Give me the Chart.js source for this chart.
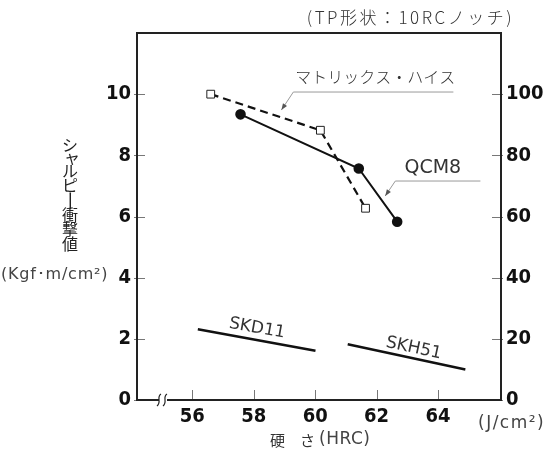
<!DOCTYPE html>
<html><head><meta charset="utf-8">
<script src="https://cdn.jsdelivr.net/npm/chart.js@4/dist/chart.umd.min.js"></script>
<style>html,body{margin:0;padding:0;background:#fff}#wrap{width:546px;height:451px}</style>
</head><body><div id="wrap"><canvas id="c" width="546" height="451"></canvas></div>
<script>
// ---- data ----
const matrixHRC = [56.6, 60.17, 61.64];
const matrixVal = [10.0, 8.82, 6.27];
const qcmHRC = [57.57, 61.42, 62.67];
const qcmVal = [9.34, 7.57, 5.83];
const skd11HRC = [56.18, 60.01];
const skd11Val = [2.31, 1.61];
const skh51HRC = [61.06, 64.89];
const skh51Val = [1.82, 1.00];
const xTicks = [56, 58, 60, 62, 64];
const yTicks = [0, 2, 4, 6, 8, 10];
const y2Ticks = [0, 20, 40, 60, 80, 100];
const titleText = '(TP形状：10RCノッチ)';
const yTitleChars = ['シ','ャ','ル','ピ','ー','衝','撃','値'];
const yUnit = '(Kgf･m/cm²)';
const y2Unit = '(J/cm²)';
const xTitleA = '硬　さ';
const xTitleB = '(HRC)';

const pts = (xs, ys) => xs.map((x, i) => ({x, y: ys[i]}));
const JP = "'Noto Sans CJK JP', 'Noto Sans', sans-serif";
const LAT = "'DejaVu Sans', sans-serif";
const NUM = "'DejaVu Sans Condensed', 'Liberation Sans Narrow', 'DejaVu Sans', sans-serif";

const decor = {
  id: 'decor',
  afterDraw(chart) {
    const {ctx, chartArea: a, scales} = chart;
    const X = v => scales.x.getPixelForValue(v);
    const Y = v => scales.y.getPixelForValue(v);
    ctx.save();
    // inner ticks
    ctx.strokeStyle = '#777'; ctx.lineWidth = 1;
    xTicks.forEach(v => { const px = Math.round(X(v)) + 0.5; ctx.beginPath(); ctx.moveTo(px, a.bottom); ctx.lineTo(px, a.bottom - 10); ctx.stroke(); });
    yTicks.forEach(v => { const py = Math.round(Y(v)) + 0.5; ctx.beginPath(); ctx.moveTo(a.left - 3, py); ctx.lineTo(a.left + 8, py); ctx.stroke(); });
    y2Ticks.forEach(v => { const py = Math.round(scales.y2.getPixelForValue(v)) + 0.5; ctx.beginPath(); ctx.moveTo(a.right + 2, py); ctx.lineTo(a.right - 9, py); ctx.stroke(); });
    // frame
    ctx.strokeStyle = '#222'; ctx.lineWidth = 2;
    ctx.strokeRect(a.left, a.top, a.right - a.left, a.bottom - a.top);
    // axis break
    const bx = a.left + 25, by = a.bottom;
    ctx.fillStyle = '#fff'; ctx.fillRect(bx - 3, by - 2, 8, 4);
    ctx.strokeStyle = '#222'; ctx.lineWidth = 1.2;
    [bx - 3, bx + 3].forEach(sx => {
      ctx.beginPath(); ctx.moveTo(sx + 2, by - 6);
      ctx.bezierCurveTo(sx - 3, by - 3, sx + 3, by + 2, sx - 2, by + 6); ctx.stroke();
    });
    // title
    ctx.fillStyle = '#333'; ctx.textBaseline = 'middle';
    ctx.font = '300 17px ' + JP;
    ctx.letterSpacing = '2.5px';
    ctx.textAlign = 'right'; ctx.fillText(titleText, 514, 18);
    ctx.letterSpacing = '0px';
    // y title vertical
    ctx.textAlign = 'center'; ctx.font = '16px ' + JP; ctx.fillStyle = '#222';
    const cy = [145, 158, 171, 185, 201, 215, 229, 244];
    yTitleChars.forEach((ch, i) => {
      if (ch === 'ー') { ctx.save(); ctx.translate(70, cy[i]); ctx.rotate(Math.PI / 2); ctx.scale(1.3, 1); ctx.fillText(ch, 0, 0); ctx.restore(); }
      else if (ch === 'ャ') ctx.fillText(ch, 72, cy[i] - 1);
      else ctx.fillText(ch, 70, cy[i]);
    });
    ctx.fillStyle = '#444'; ctx.textAlign = 'left';
    ctx.font = '16px ' + LAT; ctx.letterSpacing = '0.8px';
    ctx.fillText(yUnit, 1, Y(4.1));
    ctx.font = '17px ' + LAT; ctx.letterSpacing = '1.5px';
    ctx.fillText(y2Unit, 478, 424);
    ctx.letterSpacing = '0px';
    ctx.font = '15px ' + JP; ctx.fillStyle = '#333';
    ctx.fillText(xTitleA, 270, 440);
    ctx.font = '17px ' + LAT; ctx.fillStyle = '#444'; ctx.letterSpacing = '0.5px';
    ctx.fillText(xTitleB, 319, 440);
    ctx.letterSpacing = '0px';
    // series labels
    const rotText = (t, vx, vy, ang, font) => { ctx.save(); ctx.translate(X(vx), Y(vy)); ctx.rotate(ang * Math.PI / 180); ctx.font = font; ctx.textAlign = 'center'; ctx.fillText(t, 0, 0); ctx.restore(); };
    ctx.fillStyle = '#333';
    rotText('SKD11', 58.11, 2.34, 10, '17px ' + LAT);
    rotText('SKH51', 63.21, 1.69, 12, '17px ' + LAT);
    ctx.font = '300 16px ' + JP; ctx.textAlign = 'center';
    ctx.fillText('マトリックス・ハイス', X(61.96), Y(10.57));
    ctx.font = '19px ' + LAT;
    ctx.fillText('QCM8', X(63.83), Y(7.58));
    // leaders
    const leader = (x0, x1, yu, xt, yt) => {
      ctx.strokeStyle = '#999'; ctx.lineWidth = 1;
      ctx.beginPath(); ctx.moveTo(X(x1), Y(yu)); ctx.lineTo(X(x0), Y(yu)); ctx.lineTo(X(xt), Y(yt)); ctx.stroke();
      const sx = X(x0), sy = Y(yu), ex = X(xt), ey = Y(yt);
      const ang = Math.atan2(ey - sy, ex - sx);
      ctx.fillStyle = '#555'; ctx.beginPath(); ctx.moveTo(ex, ey);
      ctx.lineTo(ex - 7 * Math.cos(ang - 0.35), ey - 7 * Math.sin(ang - 0.35));
      ctx.lineTo(ex - 7 * Math.cos(ang + 0.35), ey - 7 * Math.sin(ang + 0.35));
      ctx.closePath(); ctx.fill();
    };
    leader(59.29, 64.5, 10.07, 58.9, 9.48);
    leader(62.61, 65.38, 7.16, 62.28, 6.67);
    ctx.restore();
  }
};

new Chart(document.getElementById('c'), {
  type: 'scatter',
  data: {
    datasets: [
      {data: pts(qcmHRC, qcmVal), showLine: true, borderColor: '#111', borderWidth: 2, pointRadius: 4.3, pointBackgroundColor: '#111', pointBorderColor: '#111'},
      {data: pts(matrixHRC, matrixVal), showLine: true, borderColor: '#111', borderWidth: 2.2, borderDash: [8, 5], pointStyle: 'rect', pointRadius: 5.5, pointBackgroundColor: '#fff', pointBorderColor: '#222', pointBorderWidth: 1},
      {data: pts(skd11HRC, skd11Val), showLine: true, borderColor: '#111', borderWidth: 2.5, pointRadius: 0},
      {data: pts(skh51HRC, skh51Val), showLine: true, borderColor: '#111', borderWidth: 2.5, pointRadius: 0}
    ]
  },
  options: {
    responsive: false, animation: false, devicePixelRatio: 1,
    layout: {padding: {top: 33, left: 0, right: 0, bottom: 0}},
    plugins: {legend: {display: false}, tooltip: {enabled: false}},
    scales: {
      x: {type: 'linear', min: 54.2, max: 66.05,
        afterBuildTicks: s => { s.ticks = xTicks.map(v => ({value: v})); },
        afterFit: s => { s.height = 51; },
        grid: {display: false, drawTicks: false}, border: {display: false},
        ticks: {padding: 5, color: '#111', font: {family: NUM, size: 20, weight: 'bold'}}},
      y: {type: 'linear', position: 'left', min: 0, max: 12,
        afterBuildTicks: s => { s.ticks = yTicks.map(v => ({value: v})); },
        afterFit: s => { s.width = 137; },
        grid: {display: false, drawTicks: false}, border: {display: false},
        ticks: {padding: 6, color: '#111', font: {family: NUM, size: 20, weight: 'bold'}}},
      y2: {type: 'linear', position: 'right', min: 0, max: 120,
        afterBuildTicks: s => { s.ticks = y2Ticks.map(v => ({value: v})); },
        afterFit: s => { s.width = 45; },
        grid: {display: false, drawTicks: false}, border: {display: false},
        ticks: {padding: 5, color: '#111', font: {family: NUM, size: 20, weight: 'bold'}}}
    }
  },
  plugins: [decor]
});
</script></body></html>
